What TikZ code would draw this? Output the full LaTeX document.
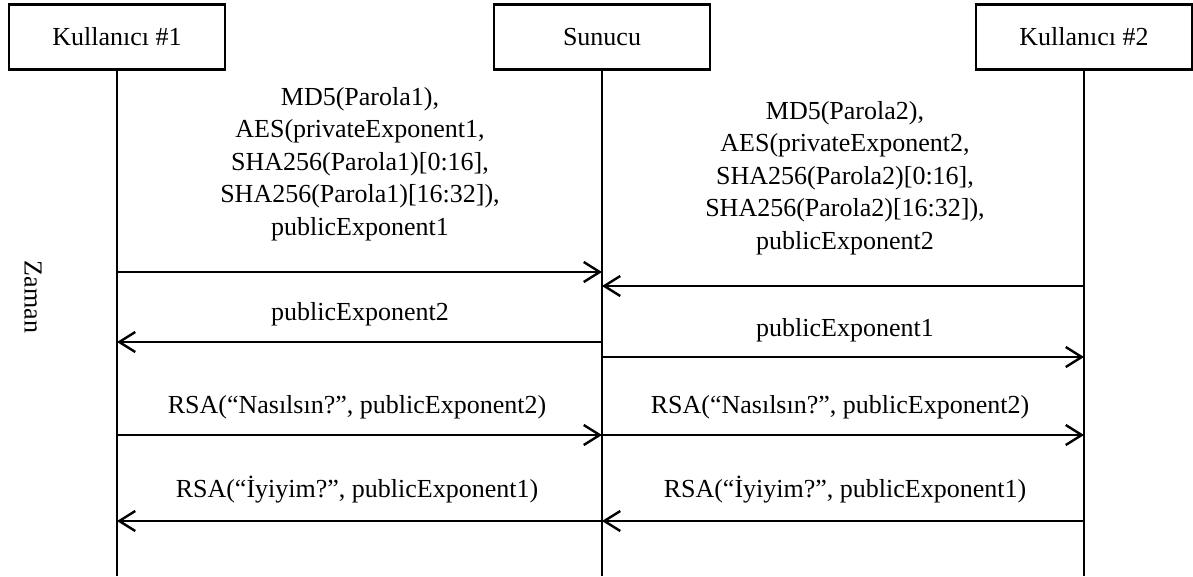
\documentclass[tikz,border=0pt]{standalone}
\usepackage{fontspec}
\setmainfont{Liberation Serif}
\usetikzlibrary{arrows.meta}
\begin{document}
\begin{tikzpicture}[x=1pt,y=-1pt,
  actor/.style={draw,line width=2.6pt,minimum width=216pt,minimum height=65pt,inner sep=0pt,font=\fontsize{26}{32}\selectfont},
  life/.style={line width=2pt},
  msg/.style={line width=2pt,-{Straight Barb[length=16pt,width=20pt,line width=2.4pt]}},
  lbl/.style={font=\fontsize{26}{32.5}\selectfont,align=center,inner sep=0pt}]
\useasboundingbox (0,0) rectangle (1193,576);
\node[actor] (u1) at (117,37) {Kullanıcı \#1};
\node[actor] (sv) at (602,37) {Sunucu};
\node[actor] (u2) at (1084,37) {Kullanıcı \#2};
\coordinate (e1) at (117,576);
\coordinate (e2) at (602,576);
\coordinate (e3) at (1084,576);
\draw[life] (u1.south) -- (e1);
\draw[life] (sv.south) -- (e2);
\draw[life] (u2.south) -- (e3);
\node[rotate=-90,font=\fontsize{26}{32}\selectfont] (zm) at (33,297) {Zaman};
% coordinates on lifelines
\foreach \n/\y in {a/272,b/286,c/342,d/357,e/435,f/521}{
  \coordinate (\n1) at (117,\y);
  \coordinate (\n2) at (602,\y);
  \coordinate (\n3) at (1084,\y);
}
\draw[msg] (a1) -- (a2);
\draw[msg] (b3) -- (b2);
\draw[msg] (c2) -- (c1);
\draw[msg] (d2) -- (d3);
\draw[msg] (e1) -- (e2);
\draw[msg] (e2) -- (e3);
\draw[msg] (f2) -- (f1);
\draw[msg] (f3) -- (f2);
\node[lbl] (t1) at (360,164) {MD5(Parola1),\\AES(privateExponent1,\\SHA256(Parola1)[0:16],\\SHA256(Parola1)[16:32]),\\publicExponent1};
\node[lbl] (t2) at (845,178) {MD5(Parola2),\\AES(privateExponent2,\\SHA256(Parola2)[0:16],\\SHA256(Parola2)[16:32]),\\publicExponent2};
\node[lbl] (t3) at (360,314) {publicExponent2};
\node[lbl] (t4) at (845,330) {publicExponent1};
\node[lbl] (t5) at (357,407) {RSA(“Nasılsın?”, publicExponent2)};
\node[lbl] (t6) at (840,407) {RSA(“Nasılsın?”, publicExponent2)};
\node[lbl] (t7) at (357,490) {RSA(“İyiyim?”, publicExponent1)};
\node[lbl] (t8) at (845,490) {RSA(“İyiyim?”, publicExponent1)};
\end{tikzpicture}
\end{document}
